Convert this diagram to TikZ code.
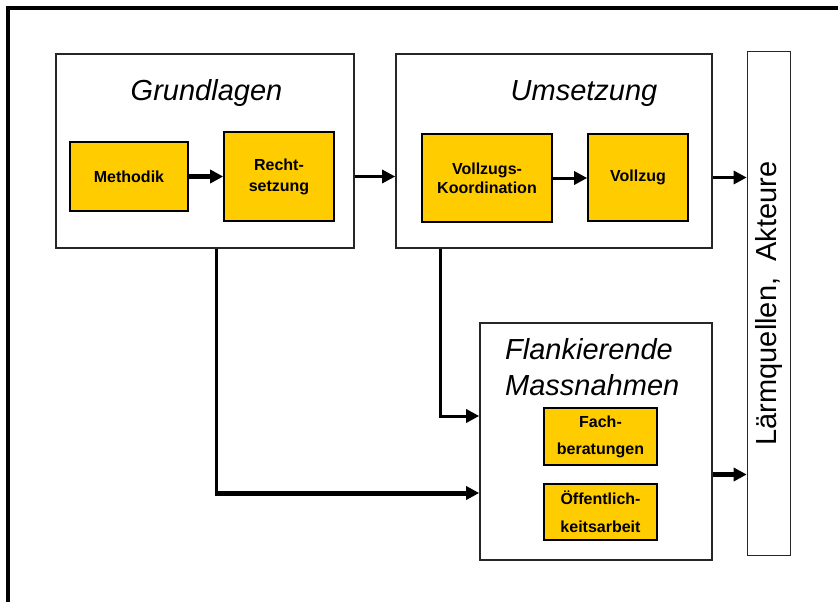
\documentclass[tikz,border=0pt]{standalone}
\usepackage{fontspec}
\setmainfont{Liberation Sans}
\usetikzlibrary{positioning,calc,arrows.meta}
\definecolor{gelb}{HTML}{FFCC00}
\tikzset{panel/.style={draw=black!85,line width=1.6pt,fill=white,inner sep=0pt}}
\tikzset{task/.style={draw,line width=1.6pt,fill=gelb,align=center,inner sep=0pt}}
\tikzset{titel/.style={font=\fontsize{29}{36}\selectfont\itshape,inner sep=0pt}}
\tikzset{flow/.style={-{Triangle[length=13pt,width=13pt]},line width=3pt}}
\tikzset{heavy/.style={flow,line width=5pt}}
\newcommand{\taskfont}[1]{\fontsize{16}{#1}\selectfont\bfseries}

\begin{document}
\begin{tikzpicture}[x=1pt,y=-1pt]
  \useasboundingbox (0,0) rectangle (838,602);
  \draw[line width=4pt] (838,8) -- (8,8) -- (8,602);
  % Bereiche
  \node[panel,minimum width=298,minimum height=194] (grund) at (205,151) {};
  \node[panel,minimum width=316,minimum height=194] (umsetz) at (554,151) {};
  \node[panel,minimum width=232,minimum height=237] (flank) at (596,441.5) {};
  \node[panel,minimum width=43,minimum height=504] (akteure) at (769,303.5)
        {\rotatebox{90}{\fontsize{29}{35}\selectfont L\"armquellen,\ \ Akteure}};
  \node[titel,anchor=base] (tgrund) at (206.5,100) {Grundlagen};
  \node[titel,anchor=base] (tumsetz) at (584,100) {Umsetzung};
  \node[titel,anchor=base west,align=left] (tflank) at (505,395) {Flankierende\\Massnahmen};
  % Aufgaben
  \node[task,minimum width=118,minimum height=69,font=\taskfont{19}] (methodik) at (129,176.5) {Methodik};
  \node[task,minimum width=110,minimum height=89,font=\taskfont{21}] (recht) at (279,176.5) {Recht-\\setzung};
  \node[task,minimum width=130,minimum height=88,font=\taskfont{19}] (koord) at (487,178) {Vollzugs-\\Koordination};
  \node[task,minimum width=100,minimum height=87,font=\taskfont{19}] (vollzug) at (638,177.5) {Vollzug};
  \node[task,minimum width=113,minimum height=57,font=\taskfont{27}] (fach) at (600.5,436.5) {Fach-\\beratungen};
  \node[task,minimum width=113,minimum height=56,font=\taskfont{28}] (oeff) at (600.5,512) {\"Offentlich-\\keitsarbeit};
  % Pfeile
  \draw[heavy] (methodik) -- (recht);
  \draw[flow] (koord.east) -- (vollzug.west |- koord.east);
  \draw[flow] (grund.east |- recht) -- (umsetz.west |- recht);
  \draw[flow] (umsetz.east |- vollzug) -- (akteure.west |- vollzug);
  \coordinate (mitte) at ($(fach.south)!.5!(oeff.north)$);
  \draw[heavy] (flank.east |- mitte) -- (akteure.west |- mitte);
  \coordinate (uknick) at (440,416);
  \draw[flow] (umsetz.south -| uknick) |- (flank.west |- uknick);
  \coordinate (gknick) at (216,493);
  \draw[line width=3pt] (grund.south -| gknick) -- (gknick);
  \draw[heavy] ($(gknick)+(-1.5,0)$) -- (flank.west |- gknick);
\end{tikzpicture}
\end{document}
